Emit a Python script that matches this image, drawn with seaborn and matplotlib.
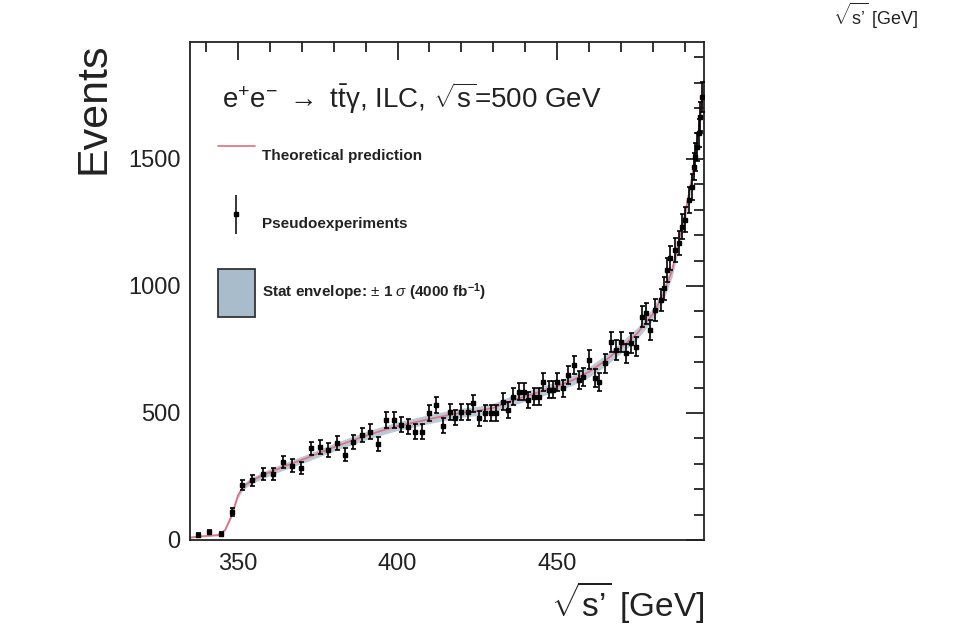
import numpy as np
import pandas as pd
import matplotlib
matplotlib.use("Agg")
import matplotlib.pyplot as plt
import seaborn as sns
from matplotlib.lines import Line2D
from matplotlib.patches import Patch
from matplotlib.legend_handler import HandlerErrorbar

# ---------------- data ----------------
data_x = [337.4, 340.8, 344.6, 348.0, 351.3, 354.5, 357.8, 360.9, 364.1, 367.0,
          369.9, 372.8, 375.6, 378.3, 381.1, 383.6, 386.2, 388.9, 391.5, 394.0,
          396.5, 398.8, 401.1, 403.4, 405.6, 407.7, 410.0, 412.1, 414.2, 416.3,
          418.1, 419.9, 422.0, 423.8, 425.6, 427.5, 429.3, 431.0, 432.9, 434.5,
          436.3, 437.9, 439.5, 441.0, 442.6, 444.2, 445.7, 447.3, 448.8, 450.1,
          451.7, 453.5, 455.3, 456.7, 458.2, 460.0, 461.9, 463.1, 465.0, 466.8,
          468.3, 469.9, 471.5, 473.0, 474.6, 476.5, 477.7, 479.0, 480.8, 482.4,
          483.5, 484.5, 485.5, 486.8, 488.1, 489.1, 490.2, 491.3, 492.2, 492.8,
          493.3, 493.8, 494.4, 494.9, 495.3]
data_y = [20, 33, 24, 111, 217, 236, 260, 260, 308, 293,
          282, 361, 367, 354, 381, 335, 387, 413, 426, 378,
          472, 472, 453, 446, 426, 426, 499, 531, 450, 502,
          482, 505, 505, 538, 479, 499, 499, 499, 545, 512,
          564, 584, 584, 551, 564, 564, 623, 591, 591, 623,
          597, 650, 689, 630, 643, 709, 637, 623, 696, 781,
          748, 781, 735, 774, 761, 879, 892, 827, 906, 945,
          990, 1063, 1110, 1140, 1169, 1232, 1260, 1339, 1390, 1469,
          1508, 1547, 1602, 1665, 1744]

theory_x = [335, 338, 341, 344, 346, 348, 350, 351.5, 354, 357, 360, 364, 368,
            372, 376, 380, 385, 390, 395, 400, 405, 410, 415, 420, 425, 430,
            435, 440, 445, 450, 455, 460, 465, 470, 475, 480, 483, 486, 488,
            490, 492, 494, 496]
theory_y = [10, 14, 17, 20, 40, 95, 175, 208, 232, 250, 267, 287, 306,
            325, 345, 365, 388, 410, 430, 448, 462, 476, 489, 501, 508, 520,
            545, 565, 585, 605, 630, 662, 705, 757, 812, 890, 960, 1060, 1170,
            1280, 1410, 1580, 1790]

x_major_ticks = [350, 400, 450]
y_major_ticks = [0, 500, 1000, 1500]

title_text = (r"e$^{+}$e$^{-}$ $\rightarrow$ t$\bar{\mathrm{t}}\mathrm{\gamma}$, "
              r"ILC, $\sqrt{\mathrm{s}}$=500 GeV")
legend_labels = ["Theoretical prediction", "Pseudoexperiments",
                 r"Stat envelope: $\pm$ 1 $\sigma$ (4000 fb$^{\mathbf{-1}}$)"]
xlabel_text = "$\\sqrt{\\mathrm{s\u2019}}$ [GeV]"

df_data = pd.DataFrame({"x": data_x, "y": data_y})
df_data["err"] = np.sqrt(df_data["y"]) * 1.4
df_th = pd.DataFrame({"x": theory_x, "y": theory_y})
df_th["err"] = np.sqrt(df_th["y"]) * 0.8

# ---------------- style ----------------
sns.set_style("white")
plt.rcParams["font.family"] = ["Liberation Sans", "DejaVu Sans"]
plt.rcParams["mathtext.fontset"] = "custom"
plt.rcParams["mathtext.rm"] = "Liberation Sans"
plt.rcParams["mathtext.it"] = "Liberation Sans:italic"
plt.rcParams["mathtext.bf"] = "Liberation Sans:bold"

fig = plt.figure(figsize=(9.55, 6.24), dpi=100)
ax = fig.add_axes([190 / 955, 1 - 540 / 624, 514 / 955, 498 / 624])

band_color = "#a9bccb"
line_color = "#e0707e"
ink = "#222222"

ax.fill_between(df_th["x"], df_th["y"] - df_th["err"], df_th["y"] + df_th["err"],
                color=band_color, alpha=0.8, lw=0, zorder=1)
sns.lineplot(data=df_th, x="x", y="y", ax=ax, color=line_color, lw=1.2, zorder=2)
ax.errorbar(df_data["x"], df_data["y"], yerr=df_data["err"], fmt="s", ms=3.4,
            color="black", ecolor="black", elinewidth=1.2, capsize=1.8,
            capthick=1.2, zorder=3)

ax.set_xlim(335, 496)
ax.set_ylim(0, 1960)
ax.set_xticks(x_major_ticks)
ax.set_yticks(y_major_ticks)
ax.xaxis.set_minor_locator(matplotlib.ticker.MultipleLocator(10))
ax.yaxis.set_minor_locator(matplotlib.ticker.MultipleLocator(100))
ax.tick_params(which="both", direction="in", top=True, right=True,
               width=1.3, color=ink, labelsize=17, labelcolor=ink)
ax.tick_params(which="major", length=13)
ax.tick_params(which="minor", length=7)
ax.tick_params(axis="x", which="major", pad=9)
ax.tick_params(axis="y", which="major", pad=7)
for s in ax.spines.values():
    s.set_linewidth(1.3)
    s.set_color(ink)

ax.set_ylabel("Events", fontsize=31, loc="top", color=ink)
ax.yaxis.set_label_coords(-0.148, 1.0)
ax.set_xlabel(xlabel_text, fontsize=24, loc="right", color=ink)
ax.xaxis.label.set_va("baseline")
ax.xaxis.set_label_coords(1.0, -(616 - 540) / 498)

ax.text(0.062, 0.888, title_text, transform=ax.transAxes, fontsize=20,
        va="center", ha="left", color=ink)

err_handle = ax.errorbar([], [], yerr=[], fmt="s", ms=3, color="black",
                         elinewidth=1.1, capsize=2, capthick=1.1)
handles = [Line2D([], [], color=line_color, lw=1.2),
           err_handle,
           Patch(facecolor=band_color, edgecolor="#333333", lw=1.3)]
leg = ax.legend(handles, legend_labels, loc="upper left",
                bbox_to_anchor=(0.0545, 0.819), frameon=False,
                prop={"weight": "bold", "size": 11}, borderpad=0,
                handlelength=2.4, handleheight=4.45, labelspacing=1.34,
                handletextpad=0.45, borderaxespad=0,
                handler_map={type(err_handle): HandlerErrorbar(yerr_size=1.3, xerr_size=0.5)})
for t in leg.get_texts():
    t.set_color(ink)

# label of a neighbouring panel peeking in at the very top right
fig.text(0.872, 0.998, xlabel_text, fontsize=13, va="top", ha="left", color=ink)

fig.savefig("out.png", dpi=100)
